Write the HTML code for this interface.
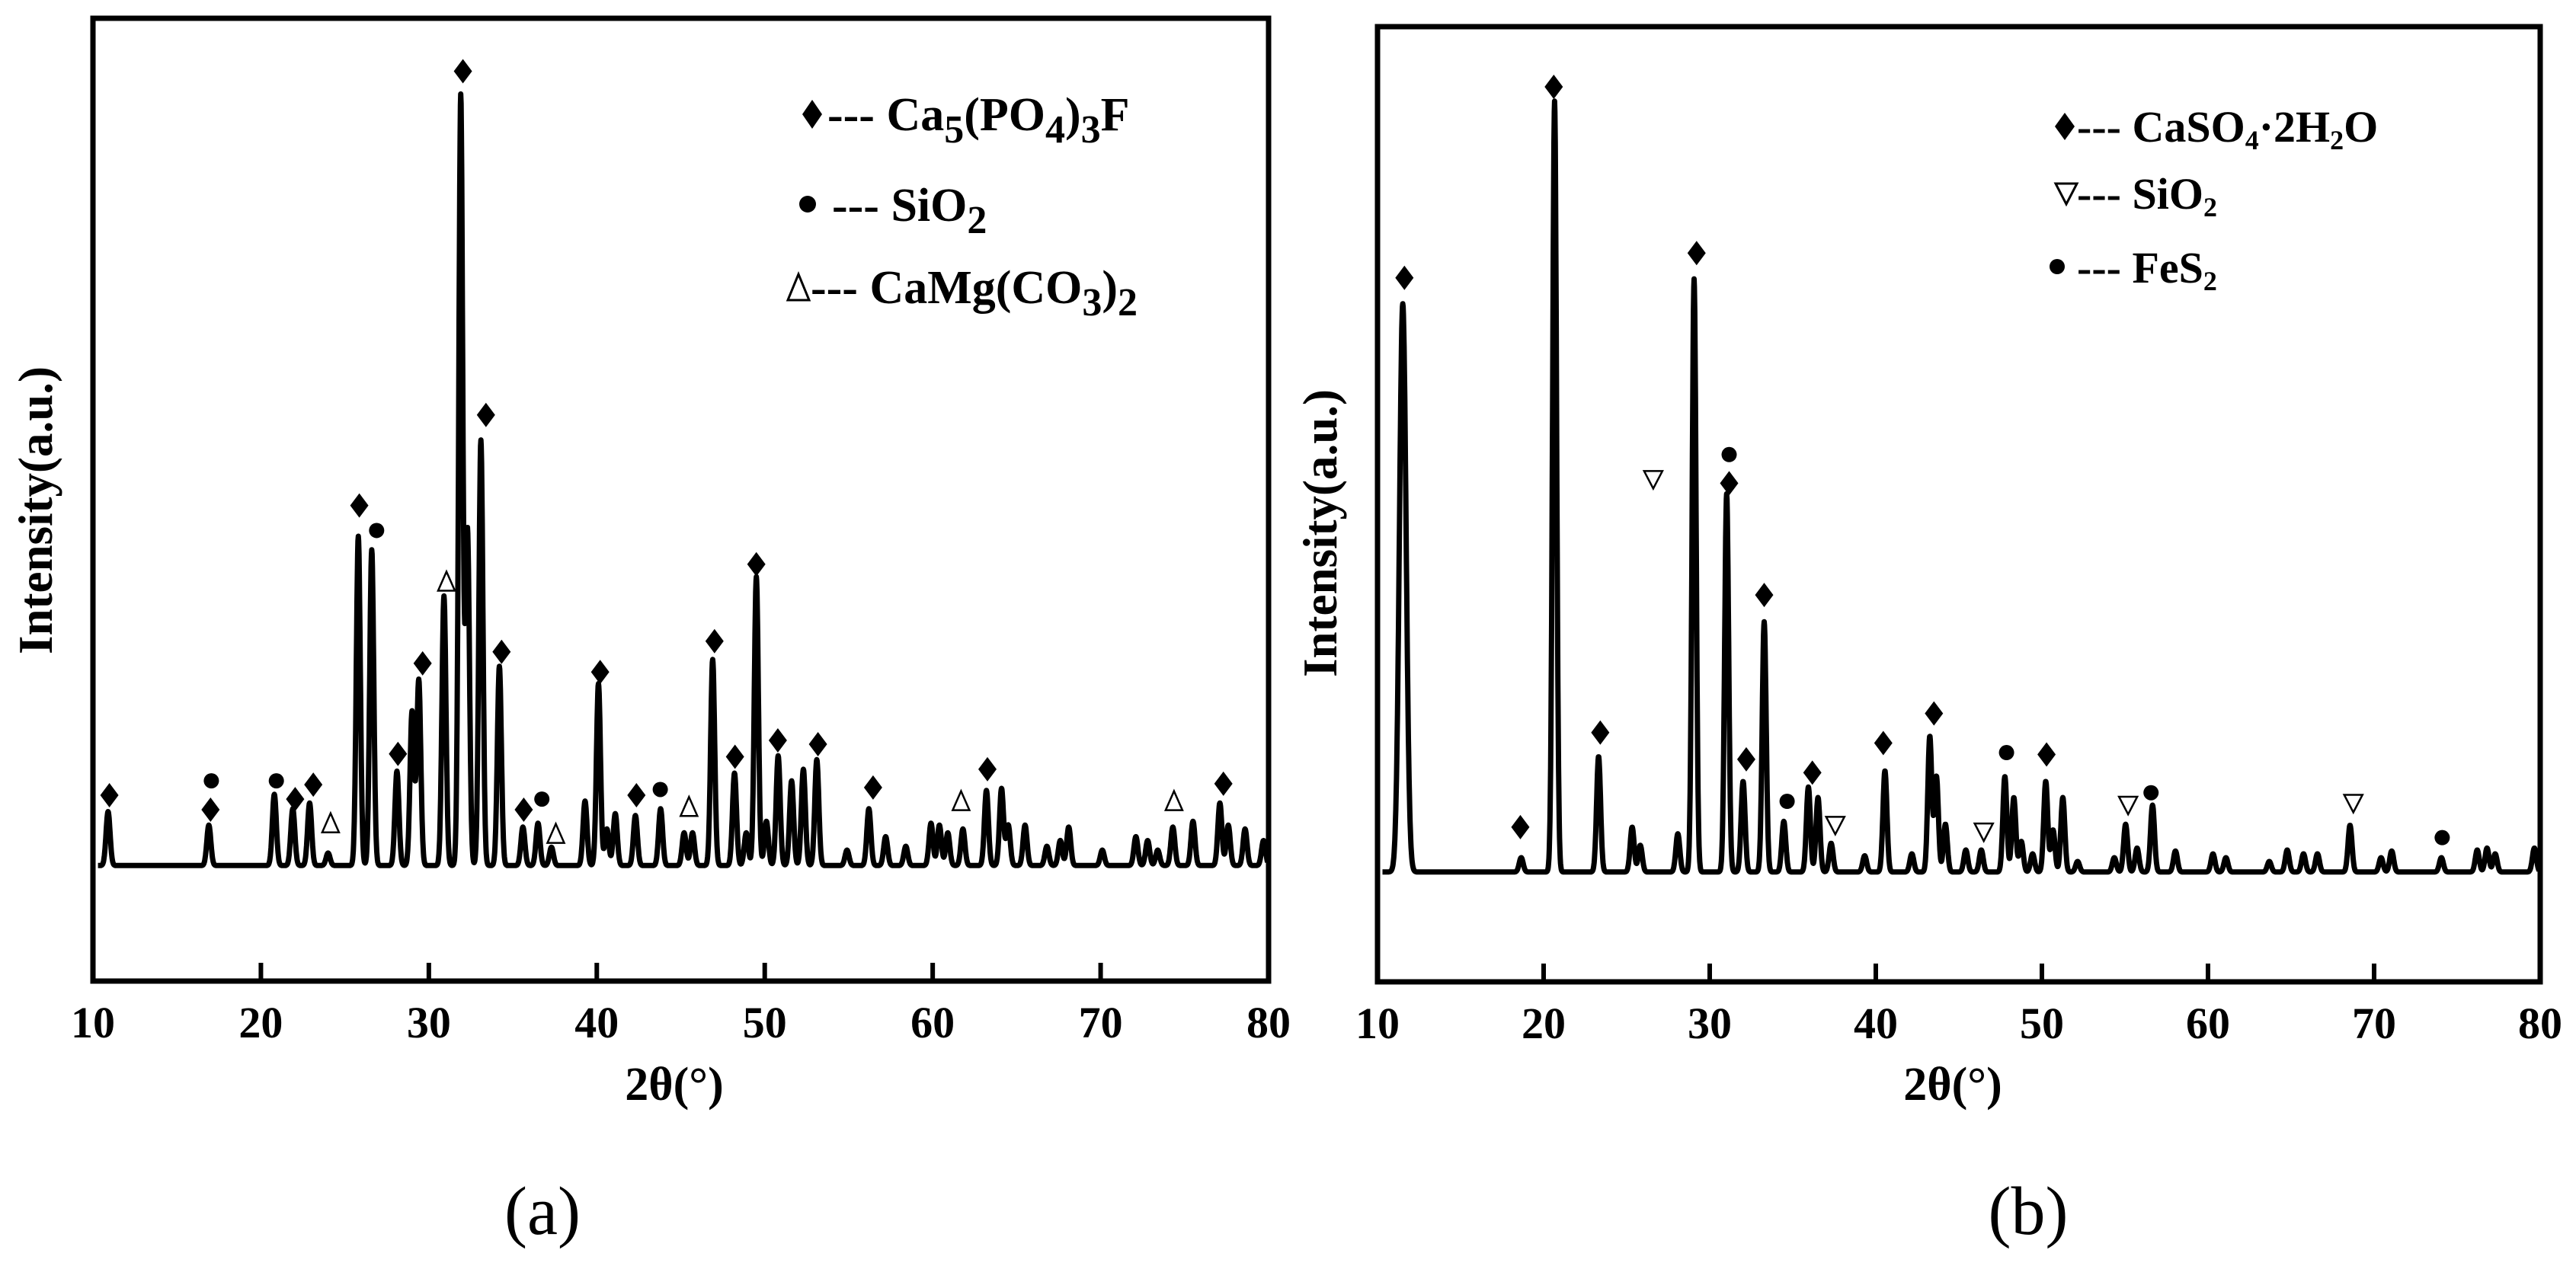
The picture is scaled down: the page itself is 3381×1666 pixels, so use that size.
<!DOCTYPE html>
<html><head><meta charset="utf-8"><style>
html,body{margin:0;padding:0;background:#fff}
svg{display:block}
text{font-family:"Liberation Serif",serif;fill:#000}
.b{font-weight:bold}
</style></head><body>
<svg id="svg" width="3381" height="1666" viewBox="0 0 3381 1666" xmlns="http://www.w3.org/2000/svg">
<g id="pa"></g>
<g id="pb"></g>
<g>
<text x="885" y="1444" text-anchor="middle" font-size="62" class="b">2θ(°)</text>
<text transform="translate(68,670) rotate(-90)" text-anchor="middle" font-size="63" class="b">Intensity(a.u.)</text>
<text x="712" y="1620" text-anchor="middle" font-size="90">(a)</text>
<g>
<path d="M1066 131L1079 150L1066 169L1053 150Z" fill="#000"/>
<text x="1086" y="171" font-size="62" class="b">--- Ca<tspan font-size="52" dy="16">5</tspan><tspan dy="-16">(PO</tspan><tspan font-size="52" dy="16">4</tspan><tspan dy="-16">)</tspan><tspan font-size="52" dy="16">3</tspan><tspan dy="-16">F</tspan></text>
<circle cx="1060" cy="268" r="11" fill="#000"/>
<text x="1092" y="290" font-size="62" class="b">--- SiO<tspan font-size="52" dy="16">2</tspan></text>
<path d="M1034 394L1062 394L1048 360Z" fill="none" stroke="#000" stroke-width="3"/>
<text x="1064" y="398" font-size="62" class="b">--- CaMg(CO<tspan font-size="52" dy="16">3</tspan><tspan dy="-16">)</tspan><tspan font-size="52" dy="16">2</tspan></text>
</g>
</g>
<g>
<text x="2563" y="1444" text-anchor="middle" font-size="62" class="b">2θ(°)</text>
<text transform="translate(1754,700) rotate(-90)" text-anchor="middle" font-size="63" class="b">Intensity(a.u.)</text>
<text x="2662" y="1620" text-anchor="middle" font-size="90">(b)</text>
<g>
<path d="M2710 148L2723 166L2710 184L2697 166Z" fill="#000"/>
<text x="2726" y="186" font-size="58" class="b">--- CaSO<tspan font-size="36" dy="10">4</tspan><tspan dy="-10">·2H</tspan><tspan font-size="36" dy="10">2</tspan><tspan dy="-10">O</tspan></text>
<path d="M2698 241L2726 241L2712 268Z" fill="none" stroke="#000" stroke-width="3"/>
<text x="2726" y="274" font-size="58" class="b">--- SiO<tspan font-size="36" dy="10">2</tspan></text>
<circle cx="2700" cy="350" r="10" fill="#000"/>
<text x="2726" y="371" font-size="58" class="b">--- FeS<tspan font-size="36" dy="10">2</tspan></text>
</g>
</g>
</svg>
<script>
// Panel (a) data
const aPeakPos = [10.9,16.9,20.8,21.9,22.9,24.0,25.8,26.6,28.1,29.0,29.4,30.9,31.9,32.3,33.1,34.2,35.6,36.5,37.3,39.3,40.1,40.6,41.1,42.3,43.8,45.2,45.7,46.9,48.2,48.9,49.5,50.1,50.8,51.6,52.3,53.1,54.9,56.2,57.2,58.4,59.9,60.4,60.9,61.8,63.2,64.1,64.5,65.5,66.8,67.6,68.1,70.1,72.1,72.8,73.4,74.3,75.5,77.1,77.6,78.6,79.7];
const aPeakVal = [17.6,16.2,19.4,17.9,18.5,13.3,46.2,44.8,21.8,28,31.3,40,92,46.8,56.2,32.7,16,16.4,13.9,18.7,30.9,15.8,17.4,17.2,17.9,15.4,15.4,33.4,21.6,15.4,42,16.6,23.4,20.8,22,23,13.6,17.9,15,14,16.4,16.2,15.4,15.8,19.8,20,16.2,16.2,14,14.6,16,13.6,15,14.6,13.6,16,16.6,18.5,16.2,15.8,14.6];
const aBase = 12;
const aDiaX = [10.98,17.0,22.04,23.12,25.86,28.16,29.63,32.03,33.40,34.33,35.65,40.20,42.36,47.01,48.23,49.50,50.78,53.17,56.45,63.26,77.31];
const aDiaY = [19.3,17.8,18.9,20.4,49.4,23.6,33.0,94.5,58.8,34.2,17.8,32.1,19.3,35.3,23.3,43.3,25.0,24.6,20.1,22.0,20.5];
const aCirX = [17.05,20.92,26.89,36.73,43.78];
const aCirY = [20.8,20.8,46.8,18.9,19.9];
const aTriX = [24.15,31.05,37.56,45.49,61.69,74.37];
const aTriY = [16.4,41.5,15.3,18.1,18.7,18.7];
// Panel (b) data
const bPeakPos = [11.52,18.65,20.66,23.31,25.33,25.82,28.08,29.06,31.02,32.01,33.28,34.46,35.94,36.52,37.31,39.33,40.55,42.17,43.25,43.65,44.19,45.42,46.35,47.77,48.31,48.76,49.44,50.23,50.67,51.26,52.15,54.36,55.04,55.73,56.66,58.04,60.30,61.08,63.69,64.77,65.75,66.59,68.55,70.42,71.06,74.05,76.21,76.80,77.29,79.65];
const bPeakVal = [71.0,13.0,92.2,23.6,16.2,14.3,15.5,73.6,51.1,21.0,37.7,16.8,20.4,19.3,14.5,13.2,22.1,13.4,25.7,21.5,16.5,13.8,13.8,21.5,19.3,14.7,13.4,21.0,15.9,19.3,12.6,13.0,16.5,14.0,18.5,13.7,13.4,13.0,12.6,13.8,13.4,13.4,16.4,13.0,13.7,13.0,13.8,14.0,13.4,14.0];
const bBase = 11.5;
const bDiaX = [11.62,18.60,20.61,23.41,29.21,31.17,32.20,33.28,36.18,40.45,43.50,50.28];
const bDiaY = [73.7,16.2,93.7,26.1,76.3,52.2,23.3,40.5,21.9,25.0,28.1,23.8];
const bCirX = [31.17,34.66,47.87,56.57,74.10];
const bCirY = [55.2,18.9,24.0,19.8,15.1];
const bTriX = [26.60,37.56,46.50,55.19,68.75];
const bTriY = [52.6,16.4,15.7,18.5,18.7];
const xTicks = [10,20,30,40,50,60,70,80];

const NS='http://www.w3.org/2000/svg';
function mk(parent,tag,attrs,txt){const e=document.createElementNS(NS,tag);for(const k in attrs)e.setAttribute(k,attrs[k]);if(txt!==undefined)e.textContent=txt;parent.appendChild(e);return e;}

function panel(g,F,pos,val,base,wide,dX,dY,cX,cY,tX,tY,triDown){
  const xs=v=>F.x0+(v-10)/70*(F.x1-F.x0);
  const ys=v=>F.y1-v/100*(F.y1-F.y0);
  let d='';
  for(let t=10.3;t<=79.95;t+=0.02){
    let v=base;
    for(let i=0;i<pos.length;i++){
      const s=(i===0&&wide)?0.2:0.12;
      const dd=(t-pos[i])/s;
      if(Math.abs(dd)<6) v+=(val[i]-base)*Math.exp(-0.5*dd*dd);
    }
    d+=(d?'L':'M')+xs(t).toFixed(1)+' '+ys(v).toFixed(1);
  }
  const p=mk(g,'path',{d:d,fill:'none',stroke:'#000','stroke-width':7,'stroke-linejoin':'round'});
  
  
  const fr=mk(g,'rect',{x:F.x0,y:F.y0,width:F.x1-F.x0,height:F.y1-F.y0,fill:'none',stroke:'#000','stroke-width':7});
  
  
  xTicks.forEach(tv=>{
    const x=xs(tv);
    if(tv>10&&tv<80){
      const tk=mk(g,'line',{x1:x,x2:x,y1:F.y1,y2:F.y1-24,stroke:'#000','stroke-width':6});
      
      
    }
    const tl=mk(g,'text',{x:x,y:F.y1+74,'text-anchor':'middle','font-size':58,class:'b'},String(tv));
    
    
  });
  dX.forEach((v,i)=>{const x=xs(v),y=ys(dY[i]);
    const m=mk(g,'path',{d:`M${x} ${y-16}L${x+12} ${y}L${x} ${y+16}L${x-12} ${y}Z`,fill:'#000'});
    
    });
  cX.forEach((v,i)=>{const m=mk(g,'circle',{cx:xs(v),cy:ys(cY[i]),r:10,fill:'#000'});
    
    });
  tX.forEach((v,i)=>{const x=xs(v),y=ys(tY[i]);
    const d2=triDown?`M${x-12} ${y-11}L${x+12} ${y-11}L${x} ${y+12}Z`:`M${x-11} ${y+12}L${x+11} ${y+12}L${x} ${y-13}Z`;
    const m=mk(g,'path',{d:d2,fill:'none',stroke:'#000','stroke-width':2.5});
    
    });
}

const ga=document.getElementById('pa'), gb=document.getElementById('pb');
panel(ga,{x0:122,x1:1665,y0:24,y1:1288},aPeakPos,aPeakVal,aBase,false,aDiaX,aDiaY,aCirX,aCirY,aTriX,aTriY,false);
panel(gb,{x0:1808,x1:3334,y0:35,y1:1289},bPeakPos,bPeakVal,bBase,true,bDiaX,bDiaY,bCirX,bCirY,bTriX,bTriY,true);
</script>
</body></html>
